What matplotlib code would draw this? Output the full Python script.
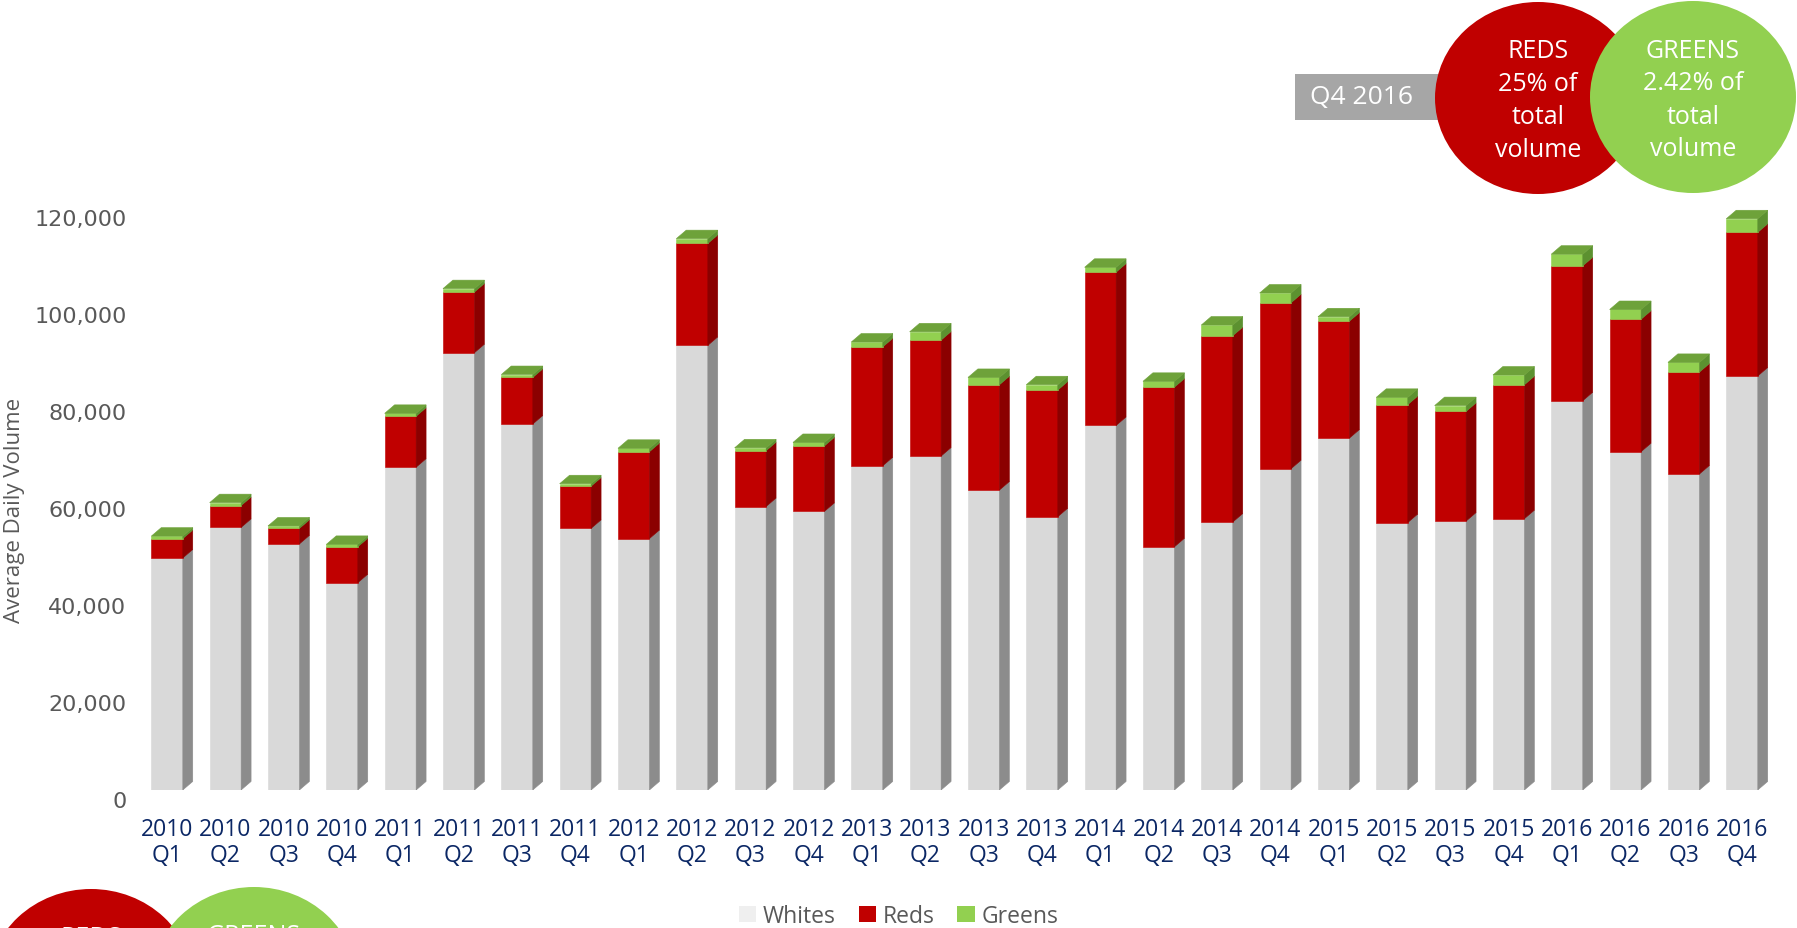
#!/usr/bin/env python3
"""Quarterly average daily volume, stacked pseudo-3D columns (Whites / Reds / Greens)."""

import numpy as np
import matplotlib

matplotlib.use("Agg")
import matplotlib.pyplot as plt
from matplotlib.patches import Ellipse, Patch, Polygon, Rectangle
from matplotlib.transforms import ScaledTranslation


YEARS = ["2010"] * 4 + ["2011"] * 4 + ["2012"] * 4 + ["2013"] * 4 + ["2014"] * 4 + ["2015"] * 4 + ["2016"] * 4
QUARTERS = ["Q1", "Q2", "Q3", "Q4"] * 7

WHITES = [47800, 54100, 50700, 42700, 66500, 90100, 75400, 53900, 51800, 91600, 58400, 57400, 66800, 68800,
          61800, 56300, 75100, 50100, 55200, 66200, 72500, 55100, 55400, 55900, 80200, 69700, 65100, 85300]
REDS = [4000, 4500, 3200, 7400, 10500, 12500, 9600, 8700, 17900, 21000, 11500, 13500, 24500, 23900,
        21700, 26100, 31600, 32900, 38400, 34200, 24100, 24300, 22600, 27600, 27800, 27300, 21000, 29600]
GREENS = [500, 600, 500, 500, 600, 700, 600, 500, 700, 1000, 600, 700, 1000, 1700,
          1500, 1100, 1000, 1200, 2200, 2000, 900, 1500, 1200, 2000, 2400, 2000, 2000, 2800]

SERIES = ["Whites", "Reds", "Greens"]
FRONT = ["#d9d9d9", "#c00000", "#92d050"]
SIDE = ["#8c8c8c", "#8b0000", "#5c9130"]
TOP = "#6ea23a"
LEGEND_SWATCH = ["#efefef", "#c00000", "#92d050"]

YTICKS = [0, 20000, 40000, 60000, 80000, 100000, 120000]

BAR_W = 0.54   # front face width (category units)
DEPTH_X = 0.17
DEPTH_Y = 1750

FONT = ["Open Sans", "DejaVu Sans"]
GREY_TEXT = "#595959"
NAVY = "#0b2765"


def px(x, y):
    """pixel position (from top-left) -> inches from bottom-left"""
    return x / 100, (929 - y) / 100


def bubbles(fig, red_c, green_c, size=(2.06, 1.92)):
    tr = fig.dpi_scale_trans
    for (cx, cy), color, lines in [
        (red_c, "#c00000", ["REDS", "25% of", "total", "volume"]),
        (green_c, "#92d050", ["GREENS", "2.42% of", "total", "volume"]),
    ]:
        fig.add_artist(Ellipse(px(cx, cy), size[0], size[1], transform=tr, color=color, lw=0))
        for k, line in enumerate(lines):
            fig.text(*px(cx, cy - 47 + 33 * k), line, transform=tr, ha="center", va="center",
                     color="white", fontsize=18, family=FONT)


def main():
    n = len(WHITES)
    x = np.arange(n)

    fig = plt.figure(figsize=(17.97, 9.29), dpi=100)
    ax = fig.add_axes([0.0735, 0.1486, 0.9154, 0.6765])
    ax.set_xlim(-0.6, n - 0.4)
    ax.set_ylim(0, 129500)

    bottom = np.zeros(n)
    for vals, face, side in zip([WHITES, REDS, GREENS], FRONT, SIDE):
        vals = np.asarray(vals, dtype=float)
        ax.bar(x, vals, BAR_W, bottom=bottom, color=face, edgecolor=face, linewidth=0.4, zorder=2)
        for xi, b, v in zip(x, bottom, vals):
            r = xi + BAR_W / 2
            ax.add_patch(Polygon([(r, b), (r + DEPTH_X, b + DEPTH_Y), (r + DEPTH_X, b + v + DEPTH_Y), (r, b + v)],
                                 closed=True, facecolor=side, edgecolor=side, lw=0.4, zorder=2))
        bottom = bottom + vals

    for xi, t in zip(x, bottom):
        l, r = xi - BAR_W / 2, xi + BAR_W / 2
        ax.add_patch(Polygon([(l, t), (r, t), (r + DEPTH_X, t + DEPTH_Y), (l + DEPTH_X, t + DEPTH_Y)],
                             closed=True, facecolor=TOP, edgecolor=TOP, lw=0.4, zorder=3))

    for s in ax.spines.values():
        s.set_visible(False)
    ax.tick_params(length=0)

    ax.set_yticks(YTICKS)
    ax.set_yticklabels([f"{v:,}" for v in YTICKS], fontsize=16, color=GREY_TEXT, family="DejaVu Sans")
    ax.tick_params(axis="y", pad=4)
    shift = ScaledTranslation(0, -0.09, fig.dpi_scale_trans)
    for lbl in ax.get_yticklabels():
        lbl.set_transform(lbl.get_transform() + shift)

    ax.set_xticks(x)
    ax.set_xticklabels([f"{y}\n{q}" for y, q in zip(YEARS, QUARTERS)], fontsize=16.5, color=NAVY,
                       family=FONT, linespacing=1.1)
    ax.tick_params(axis="x", pad=19.5)

    fig.text(*px(15, 510), "Average Daily Volume", transform=fig.dpi_scale_trans, rotation=90,
             ha="center", va="center", fontsize=16, color=GREY_TEXT, family=FONT)

    handles = [Patch(facecolor=c, edgecolor="none") for c in LEGEND_SWATCH]
    fig.legend(handles, SERIES, loc="center", bbox_to_anchor=(0.5, 0.013), ncol=3, frameon=False,
               handlelength=0.75, handleheight=0.75, handletextpad=0.3, columnspacing=1.0,
               prop={"family": FONT, "size": 16.5}, labelcolor=GREY_TEXT)

    # Q4 2016 callout
    tr = fig.dpi_scale_trans
    fig.add_artist(Rectangle(px(1295, 121), 1.43, 0.46, transform=tr, color="#a6a6a6", lw=0))
    fig.text(*px(1362, 98), "Q4 2016", transform=tr, ha="center", va="center", color="white",
             fontsize=19, family=FONT)
    bubbles(fig, (1538, 99), (1693, 98))
    bubbles(fig, (91, 986), (254, 984))

    fig.savefig("out.png", dpi=100)
    plt.close(fig)


if __name__ == "__main__":
    main()
